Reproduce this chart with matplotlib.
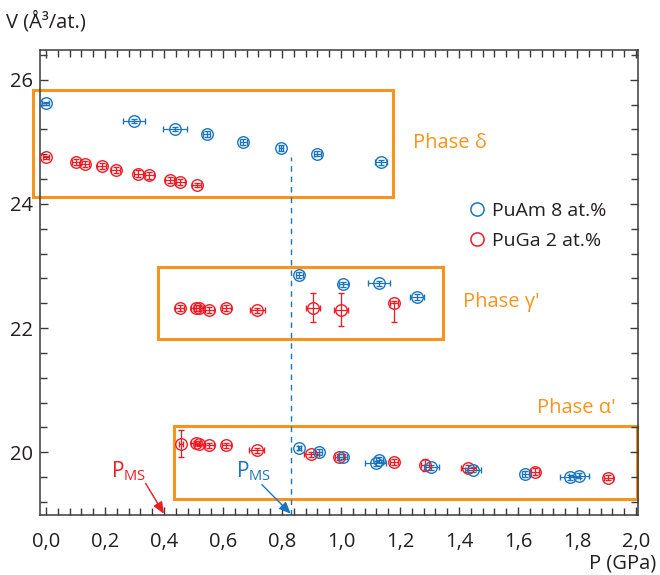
import matplotlib
matplotlib.use('Agg')
import matplotlib.pyplot as plt
from matplotlib.patches import Rectangle
from matplotlib.lines import Line2D
from matplotlib.ticker import MultipleLocator, FixedLocator, FixedFormatter

plt.rcParams['font.family'] = ['Open Sans', 'DejaVu Sans']
plt.rcParams['mathtext.fontset'] = 'custom'
plt.rcParams['mathtext.rm'] = 'Open Sans'
plt.rcParams['mathtext.it'] = 'Open Sans'

BLUE = '#1b75bc'
RED = '#ed1c24'
ORANGE = '#f7941d'
DARK = '#231f20'

# ---------------- data ----------------
# PuAm 8 at.%
puam_p = [0.000, 0.300, 0.437, 0.545, 0.669, 0.797, 0.920, 1.137,
          0.859, 1.008, 1.129, 1.257,
          0.859, 0.925, 1.006, 1.118, 1.130, 1.307, 1.449, 1.625, 1.776, 1.808]
puam_v = [25.62, 25.34, 25.21, 25.13, 25.00, 24.90, 24.81, 24.67,
          22.86, 22.71, 22.72, 22.50,
          20.07, 20.00, 19.93, 19.82, 19.88, 19.76, 19.72, 19.65, 19.60, 19.62]
puam_perr = [0.012, 0.037, 0.040, 0.012, 0.012, 0.008, 0.012, 0.020,
             0.012, 0.015, 0.036, 0.024,
             0.006, 0.012, 0.015, 0.035, 0.012, 0.025, 0.027, 0.012, 0.034, 0.034]
puam_verr = [0.03, 0.03, 0.03, 0.05, 0.05, 0.05, 0.04, 0.04,
             0.05, 0.04, 0.04, 0.05,
             0.03, 0.05, 0.04, 0.04, 0.04, 0.04, 0.04, 0.05, 0.04, 0.04]

# PuGa 2 at.%
puga_p = [0.000, 0.102, 0.132, 0.189, 0.236, 0.313, 0.350, 0.420, 0.456, 0.511,
          0.454, 0.508, 0.518, 0.554, 0.612, 0.716, 0.904, 0.999, 1.180,
          0.458, 0.508, 0.520, 0.554, 0.612, 0.714, 0.900, 0.995, 1.180,
          1.285, 1.432, 1.658, 1.906]
puga_v = [24.75, 24.67, 24.64, 24.61, 24.55, 24.49, 24.46, 24.38, 24.35, 24.31,
          22.33, 22.33, 22.32, 22.29, 22.32, 22.29, 22.33, 22.30, 22.40,
          20.14, 20.15, 20.14, 20.11, 20.11, 20.03, 19.97, 19.92, 19.84,
          19.80, 19.74, 19.69, 19.59]
puga_perr = [0.010, 0.015, 0.015, 0.015, 0.015, 0.015, 0.015, 0.015, 0.015, 0.015,
             0.015, 0.015, 0.015, 0.015, 0.015, 0.025, 0.024, 0.024, 0.015,
             0.008, 0.015, 0.015, 0.015, 0.015, 0.025, 0.025, 0.015, 0.015,
             0.012, 0.025, 0.015, 0.015]
puga_verr_lo = [0.03, 0.05, 0.05, 0.05, 0.05, 0.05, 0.05, 0.05, 0.05, 0.03,
                0.05, 0.05, 0.05, 0.05, 0.05, 0.04, 0.23, 0.26, 0.30,
                0.22, 0.04, 0.04, 0.04, 0.04, 0.04, 0.04, 0.05, 0.05,
                0.10, 0.05, 0.05, 0.04]
puga_verr_hi = [0.03, 0.05, 0.05, 0.05, 0.05, 0.05, 0.05, 0.05, 0.05, 0.03,
                0.05, 0.05, 0.05, 0.05, 0.05, 0.04, 0.23, 0.26, 0.03,
                0.22, 0.04, 0.04, 0.04, 0.04, 0.04, 0.04, 0.05, 0.05,
                0.10, 0.05, 0.05, 0.04]

series_labels = ['PuAm 8 at.%', 'PuGa 2 at.%']

# phase regions (P range, V range) and names
phase_names = ['Phase δ', "Phase γ'", "Phase α'"]
phase_p = [(-0.044, 1.176), (0.381, 1.347), (0.434, 2.004)]
phase_v = [(24.11, 25.84), (21.83, 22.98), (19.25, 20.42)]
phase_label_pos = [(1.244, 24.98), (1.414, 22.42), (1.664, 20.71)]

# martensitic-start pressures
pms_puga = 0.40
pms_puam = 0.83

x_ticks = [0.0, 0.2, 0.4, 0.6, 0.8, 1.0, 1.2, 1.4, 1.6, 1.8, 2.0]
x_tick_labels = ['0,0', '0,2', '0,4', '0,6', '0,8', '1,0', '1,2', '1,4', '1,6', '1,8', '2,0']
y_ticks = [20, 22, 24, 26]
y_tick_labels = ['20', '22', '24', '26']

# ---------------- figure ----------------
fig = plt.figure(figsize=(6.6, 5.75), dpi=100)
ax = fig.add_axes([40 / 660, 1 - 515 / 575, 598 / 660, 465 / 575])
ax.set_xlim(-0.02, 2.007)
ax.set_ylim(18.99, 26.48)

# phase boxes
for (p0, p1), (v0, v1) in zip(phase_p, phase_v):
    ax.add_patch(Rectangle((p0, v0), p1 - p0, v1 - v0, fill=False,
                           edgecolor=ORANGE, lw=2.2, clip_on=False, zorder=1))
for name, (px, py) in zip(phase_names, phase_label_pos):
    ax.text(px, py, name, color=ORANGE, fontsize=14.5, ha='left', va='center')

# dashed line at PMS of PuAm
ax.vlines(pms_puam, 18.99, 24.75, colors=BLUE, linestyles=(0, (4, 3.5)), lw=1.0, zorder=1)

common = dict(fmt='o', mfc='none', ms=8.3, mew=1.0, elinewidth=0.9, capsize=2.2,
              capthick=0.9, zorder=3)
ax.errorbar(puga_p, puga_v, xerr=puga_perr, yerr=[puga_verr_lo, puga_verr_hi],
            color=RED, mec=RED, ecolor=RED, **common)
ax.errorbar(puam_p, puam_v, xerr=puam_perr, yerr=puam_verr,
            color=BLUE, mec=BLUE, ecolor=BLUE, **common)

# PMS arrows and labels
arrow_kw = dict(arrowstyle='-|>,head_length=0.7,head_width=0.3', lw=1.0,
                shrinkA=0, shrinkB=0)
ax.annotate('', xy=(pms_puga, 19.01), xytext=(pms_puga - 0.062, 19.50),
            arrowprops=dict(color=RED, **arrow_kw), annotation_clip=False)
ax.annotate('', xy=(pms_puam, 19.01), xytext=(pms_puam - 0.098, 19.48),
            arrowprops=dict(color=BLUE, **arrow_kw), annotation_clip=False)
ax.text(0.222, 19.70, r'P$_{\mathregular{MS}}$', color=RED, fontsize=15,
        ha='left', va='center')
ax.text(0.645, 19.70, r'P$_{\mathregular{MS}}$', color=BLUE, fontsize=15,
        ha='left', va='center')

# legend
handles = [Line2D([], [], ls='none', marker='o', mfc='none', mec=BLUE, ms=9.5, mew=1.1),
           Line2D([], [], ls='none', marker='o', mfc='none', mec=RED, ms=9.5, mew=1.1)]
leg = ax.legend(handles, series_labels, loc='upper left',
                bbox_to_anchor=(0.714, 0.673), frameon=False, fontsize=14,
                handlelength=1.0, handletextpad=0.3, labelspacing=0.6,
                borderpad=0, borderaxespad=0)
for t in leg.get_texts():
    t.set_color(DARK)

# ticks
ax.xaxis.set_major_locator(FixedLocator(x_ticks))
ax.xaxis.set_major_formatter(FixedFormatter(x_tick_labels))
ax.xaxis.set_minor_locator(MultipleLocator(0.04))
ax.yaxis.set_major_locator(FixedLocator(y_ticks))
ax.yaxis.set_major_formatter(FixedFormatter(y_tick_labels))
ax.yaxis.set_minor_locator(MultipleLocator(0.4))
ax.tick_params(which='both', direction='in', top=True, right=True,
               color='#3a3a3a', width=1.0, labelsize=14.5, labelcolor=DARK)
ax.tick_params(which='major', length=6)
ax.tick_params(which='minor', length=5)
ax.tick_params(axis='x', which='major', pad=12)
ax.tick_params(axis='y', which='major', pad=5)
for s in ax.spines.values():
    s.set_color('#3a3a3a')
    s.set_linewidth(1.1)

fig.text(6 / 660, 1 - 22 / 575, 'V (Å³/at.)', fontsize=14.5, color=DARK,
         ha='left', va='center')
fig.text(656 / 660, 1 - 563 / 575, 'P (GPa)', fontsize=14.5, color=DARK,
         ha='right', va='center')

fig.savefig('out.png', dpi=100)
